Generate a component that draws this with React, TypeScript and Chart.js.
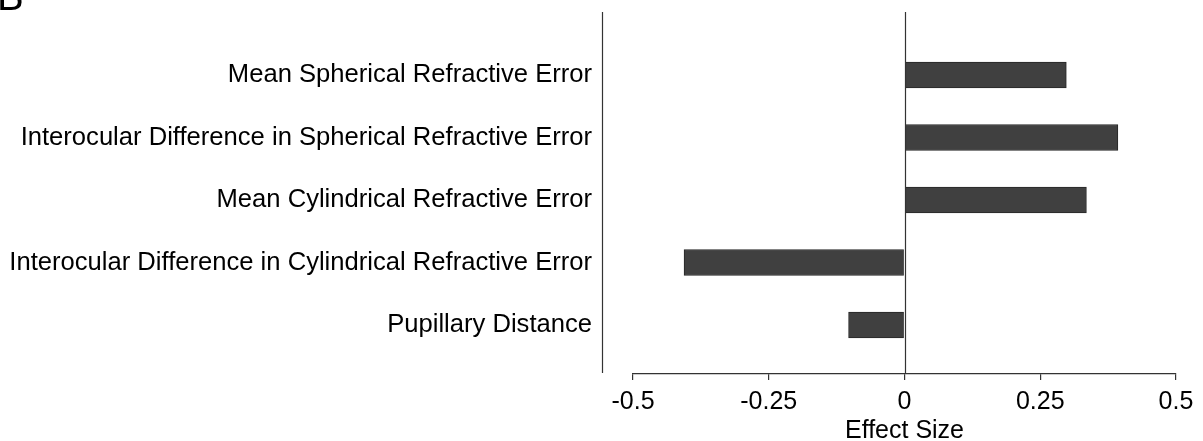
import { useEffect, useRef } from 'react';
import { Chart, registerables } from 'chart.js';

Chart.register(...registerables);

const categories = [
  'Mean Spherical Refractive Error',
  'Interocular Difference in Spherical Refractive Error',
  'Mean Cylindrical Refractive Error',
  'Interocular Difference in Cylindrical Refractive Error',
  'Pupillary Distance',
];
const effectSizes = [0.298, 0.393, 0.335, -0.406, -0.103];
const xTicks = [-0.5, -0.25, 0, 0.25, 0.5];
const xTickLabels = ['-0.5', '-0.25', '0', '0.25', '0.5'];
const xTitle = 'Effect Size';
const panelLabel = 'B';

const FONT = 'Liberation Sans';

const axisLines = {
  id: 'axisLines',
  afterDatasetsDraw(chart: any) {
    const { ctx, chartArea, scales } = chart;
    const x = scales.x;
    ctx.save();
    ctx.strokeStyle = '#333';
    ctx.lineWidth = 1.2;
    const lx = Math.round(chartArea.left - 31) + 0.5;
    ctx.beginPath();
    ctx.moveTo(lx, chartArea.top);
    ctx.lineTo(lx, chartArea.bottom - 1);
    ctx.stroke();
    const zx = Math.round(x.getPixelForValue(0)) + 0.5;
    ctx.beginPath();
    ctx.moveTo(zx, chartArea.top);
    ctx.lineTo(zx, chartArea.bottom);
    ctx.stroke();
    ctx.fillStyle = '#000';
    ctx.font = `40px "${FONT}"`;
    ctx.textBaseline = 'alphabetic';
    ctx.textAlign = 'left';
    ctx.fillText(panelLabel, -3, 10);
    ctx.restore();
  },
};

export default function App() {
  const ref = useRef<HTMLCanvasElement>(null);
  useEffect(() => {
    if (!ref.current) return;
    const chart = new Chart(ref.current, {
      type: 'bar',
      data: {
        datasets: [
          {
            data: effectSizes.map((v, i) => ({ x: v, y: i })) as any,
            backgroundColor: '#404040',
            borderColor: '#262626',
            borderWidth: 1,
            barThickness: 26,
          },
        ],
      },
      options: {
        indexAxis: 'y',
        animation: false,
        responsive: false,
        layout: { padding: { top: 12, left: 0, right: 27, bottom: 0 } },
        plugins: { legend: { display: false }, tooltip: { enabled: false } },
        scales: {
          x: {
            type: 'linear',
            min: -0.5,
            max: 0.5,
            afterBuildTicks: (s: any) => {
              s.ticks = xTicks.map((v) => ({ value: v }));
            },
            afterFit: (s: any) => {
              s.height = 67;
            },
            ticks: {
              callback: (v: any) => {
                const i = xTicks.indexOf(Number(v));
                return i >= 0 ? xTickLabels[i] : '';
              },
              font: { family: FONT, size: 25 },
              color: '#000',
              padding: 7,
              maxRotation: 0,
              autoSkip: false,
            },
            grid: {
              display: true,
              drawOnChartArea: false,
              drawTicks: true,
              tickLength: 6,
              color: '#333',
              lineWidth: 1.2,
            },
            border: { display: true, color: '#333', width: 1.2 },
            title: {
              display: true,
              text: xTitle,
              font: { family: FONT, size: 25, lineHeight: 0.8 },
              color: '#000',
              padding: { top: 0, bottom: 0 },
            },
          },
          y: {
            type: 'linear',
            reverse: true,
            offset: false,
            min: -1.008,
            max: 4.784,
            afterBuildTicks: (s: any) => {
              s.ticks = categories.map((_, i) => ({ value: i }));
            },
            afterFit: (s: any) => {
              s.width = 633;
              s.paddingTop = 0;
              s.paddingBottom = 0;
            },
            ticks: {
              callback: (v: any) => categories[Number(v)] ?? '',
              font: { family: FONT, size: 25.6 },
              color: '#000',
              padding: 41,
              autoSkip: false,
            },
            grid: { display: false, drawTicks: false, offset: false },
            border: { display: false },
          },
        },
      },
      plugins: [axisLines],
    });
    return () => chart.destroy();
  }, []);
  return (
    <div style={{ position: 'absolute', left: 0, top: 0, width: 1203, height: 441, background: '#fff' }}>
      <canvas ref={ref} width={1203} height={441} style={{ display: 'block' }} />
    </div>
  );
}
